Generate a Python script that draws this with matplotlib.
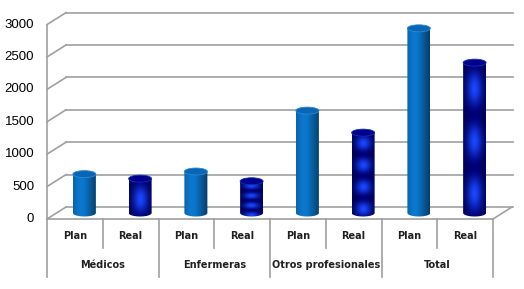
import numpy as np
import matplotlib.pyplot as plt
from matplotlib.patches import Ellipse, Polygon

# data
groups = ["Médicos", "Enfermeras", "Otros profesionales", "Total"]
series = ["Plan", "Real"]
plan = [600, 640, 1580, 2850]
real = [530, 490, 1240, 2320]
y_ticks = [0, 500, 1000, 1500, 2000, 2500, 3000]
real_bands = [1, 4, 4, 3]  # number of light bands on the "Real" texture

W, H = 524, 289
fig = plt.figure(figsize=(W / 100, H / 100), dpi=100)
fig.patch.set_facecolor("white")

# axes spans front floor (y=219px) to back top (y=13px)
px_per_unit = 32.4 / 500
px_per_slot = 55.75
ax = fig.add_axes([47 / W, (H - 219) / H, (513 - 47) / W, (219 - 13) / H])
ax.set_xlim(0, (513 - 47) / px_per_slot)
ax.set_ylim(0, (219 - 13) / px_per_unit)
ax.axis("off")

n = len(groups) * len(series)
dx = 19 / px_per_slot      # depth offset in slot units
dy = 12 / px_per_unit      # depth offset in value units
grid_c = "#a0a0a0"
xmax = ax.get_xlim()[1]

# back wall gridlines + left wall diagonals
for v in y_ticks:
    ax.plot([dx, xmax], [v + dy, v + dy], color=grid_c, lw=1.2, clip_on=False)
    ax.plot([0, dx], [v, v + dy], color=grid_c, lw=1.2, clip_on=False)
    ax.text(-0.23, v, str(v), ha="right", va="center", fontsize=9.5,
            family="Liberation Sans", color="black", clip_on=False)
# front y axis, floor front edge and right floor edge
ax.plot([0, 0], [0, y_ticks[-1]], color=grid_c, lw=1.2, clip_on=False)
ax.plot([0, n], [0, 0], color=grid_c, lw=1.2, clip_on=False)
ax.plot([n, n + dx], [0, dy], color=grid_c, lw=1.2, clip_on=False)

# category axis below (two levels)
lvl1 = -29 / px_per_unit
lvl2 = -58 / px_per_unit
for k in range(n + 1):
    bottom = lvl2 if k % 2 == 0 else lvl1
    ax.plot([k, k], [0, bottom], color=grid_c, lw=1.2, clip_on=False)
for i, g in enumerate(groups):
    for j, s in enumerate(series):
        ax.text(2 * i + j + 0.5, -17 / px_per_unit, s, ha="center", va="center",
                fontsize=7, fontweight="bold", color="#202020", clip_on=False)
    ax.text(2 * i + 1, -46 / px_per_unit, g, ha="center", va="center",
            fontsize=7, fontweight="bold", color="#202020", clip_on=False)


def plan_texture():
    t = np.linspace(0, 1, 64)
    base = np.array([10, 112, 192]) / 255
    shade = 0.78 + 0.3 * np.exp(-((t - 0.35) / 0.35) ** 2) - 0.25 * t ** 4
    img = np.clip(base[None, :] * shade[:, None], 0, 1)
    return img[None, :, :]


def real_texture(bands):
    t = np.linspace(0, 1, 64)
    u = np.linspace(0, 1, 200)
    hor = np.exp(-((t - 0.5) / 0.32) ** 2)
    ver = 0.5 - 0.5 * np.cos(2 * np.pi * bands * u)
    mix = (ver[:, None] * hor[None, :])
    dark = np.array([0, 0, 120]) / 255
    light = np.array([25, 70, 255]) / 255
    edge = 0.75 + 0.25 * hor
    img = dark[None, None, :] * edge[None, :, None] + mix[:, :, None] * (light - dark)[None, None, :]
    return np.clip(img, 0, 1)


bw = 23 / px_per_slot
eh = 7 / px_per_unit
for i in range(len(groups)):
    for j, vals in enumerate([plan, real]):
        v = vals[i]
        cx = 2 * i + j + 0.5 + dx / 2
        y0 = dy / 2
        y1 = v + dy / 2
        # body clip: rectangle + bottom half ellipse
        verts = [(cx - bw / 2, y1)]
        a = np.linspace(np.pi, 2 * np.pi, 30)
        verts += list(zip(cx + bw / 2 * np.cos(a), y0 + eh / 2 * np.sin(a)))
        verts += [(cx + bw / 2, y1), (cx - bw / 2, y1)]
        clip = Polygon(verts, closed=True, transform=ax.transData, facecolor="none", edgecolor="none")
        ax.add_patch(clip)
        img = plan_texture() if j == 0 else real_texture(real_bands[i])
        im = ax.imshow(img, extent=[cx - bw / 2, cx + bw / 2, y0 - eh, y1], aspect="auto",
                       origin="lower", interpolation="bilinear", zorder=3)
        im.set_clip_path(clip)
        top_c = "#0866b4" if j == 0 else "#00008c"
        edge_c = "#2a88d8" if j == 0 else "#1030c0"
        ax.add_patch(Ellipse((cx, y1), bw, eh, facecolor=top_c, edgecolor=edge_c, lw=0.6, zorder=4))

ax.set_xlim(0, xmax)
ax.set_ylim(0, (219 - 13) / px_per_unit)
fig.savefig("out.png", dpi=100, facecolor="white")
